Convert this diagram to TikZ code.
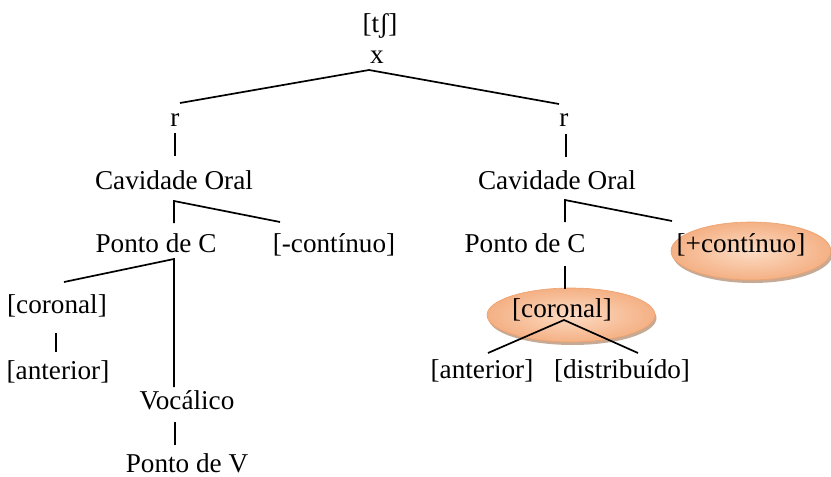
\documentclass[tikz,border=0pt]{standalone}
\usepackage{fontspec}
\setmainfont{Liberation Serif}
\usetikzlibrary{shapes.geometric,shadows}
\definecolor{peachin}{HTML}{FCDCC4}
\definecolor{peachout}{HTML}{F4B084}
\definecolor{peachdraw}{HTML}{EFA16C}
\definecolor{shadowc}{HTML}{B8957A}
\begin{document}
\begin{tikzpicture}[x=1pt,y=-1pt,
  lbl/.style={inner sep=0pt, anchor=base, font=\fontsize{27.2}{30}\selectfont},
  edge/.style={line width=1.7pt, black},
  blob/.style={ellipse, draw=peachdraw, line width=0.6pt, inner color=peachin, outer color=peachout,
    drop shadow={shadow xshift=1.5pt, shadow yshift=-3pt, fill=shadowc, opacity=0.8}}]
\useasboundingbox (0,0) rectangle (831,477);

% highlighted ellipses
\node[blob, minimum width=160pt, minimum height=58pt] (ellC) at (751,251) {};
\node[blob, minimum width=168pt, minimum height=54pt] (ellK) at (571,315) {};

% labels
\node[lbl] (ts) at (380,32) {[tʃ]};
\node[lbl] (x) at (377,63) {x};
\node[lbl] (rL) at (175,126) {r};
\node[lbl] (rR) at (564,126) {r};
\node[lbl] (cavL) at (174,189) {Cavidade Oral};
\node[lbl] (cavR) at (557,189) {Cavidade Oral};
\node[lbl] (pcL) at (156,252) {Ponto de C};
\node[lbl] (contL) at (334,252) {[-contínuo]};
\node[lbl] (pcR) at (525,252) {Ponto de C};
\node[lbl] (contR) at (741,252) {[+contínuo]};
\node[lbl] (corL) at (57,313) {[coronal]};
\node[lbl] (antL) at (58,379) {[anterior]};
\node[lbl] (corR) at (562,317) {[coronal]};
\node[lbl] (antR) at (482,378) {[anterior]};
\node[lbl] (dist) at (622,378) {[distribuído]};
\node[lbl] (voc) at (187,409) {Vocálico};
\node[lbl] (pv) at (187,472) {Ponto de V};

% connector points
\coordinate (xA) at (369,70);
\coordinate (rLt) at (180,103);
\coordinate (rRt) at (559,104);
\coordinate (rLb) at (175,133);
\coordinate (cavLt) at (175,156);
\coordinate (rRb) at (566,134);
\coordinate (cavRt) at (566,157);
\coordinate (cavLA) at (174,201);
\coordinate (pcLt) at (174,223);
\coordinate (contLt) at (280,222);
\coordinate (cavRA) at (565,200);
\coordinate (pcRt) at (565,222);
\coordinate (contRt) at (672,221);
\coordinate (pcLA) at (174,259);
\coordinate (corLt) at (64,282);
\coordinate (vocT) at (174,387);
\coordinate (corLb) at (56,333);
\coordinate (antLt) at (56,352);
\coordinate (vocB) at (175,422);
\coordinate (pvT) at (175,445);
\coordinate (pcRb) at (565,266);
\coordinate (corRt) at (565,289);
\coordinate (corRA) at (564,320);
\coordinate (antRt) at (488,353);
\coordinate (distT) at (638,353);

% connectors
\draw[edge] (rLt) -- (xA) -- (rRt);
\draw[edge] (rLb) -- (cavLt);
\draw[edge] (rRb) -- (cavRt);
\draw[edge] (pcLt) -- (cavLA) -- (contLt);
\draw[edge] (pcRt) -- (cavRA) -- (contRt);
\draw[edge] (corLt) -- (pcLA) -- (vocT);
\draw[edge] (corLb) -- (antLt);
\draw[edge] (vocB) -- (pvT);
\draw[edge] (pcRb) -- (corRt);
\draw[edge] (antRt) -- (corRA) -- (distT);
\end{tikzpicture}
\end{document}
